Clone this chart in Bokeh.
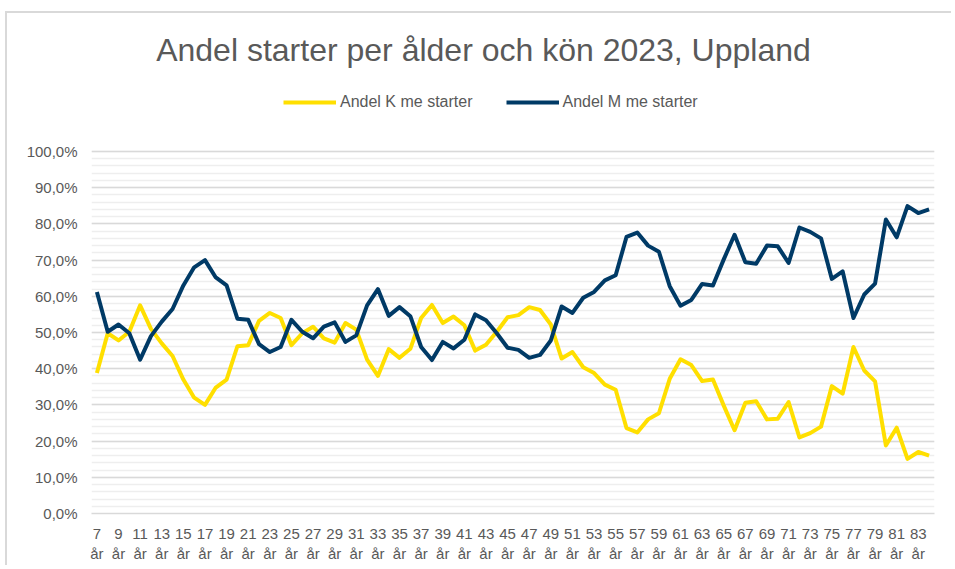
from bokeh.plotting import figure
from bokeh.models import (Range1d, FixedTicker, Legend, LegendItem, Label,
                          ColumnDataSource)
from bokeh.embed import file_html
from bokeh.resources import INLINE

# ---- data -------------------------------------------------------------
ages = list(range(7, 85))
andel_k = [38.8, 49.8, 47.8, 50.2, 57.5, 51.0, 47.0, 43.5, 37.0, 32.0,
           30.0, 34.8, 37.0, 46.2, 46.5, 53.2, 55.4, 54.0, 46.5, 49.8,
           51.6, 48.4, 47.2, 52.6, 50.8, 42.5, 38.0, 45.4, 43.0, 45.5,
           54.0, 57.6, 52.6, 54.4, 52.0, 45.0, 46.6, 50.2, 54.2, 54.8,
           57.0, 56.2, 52.2, 42.8, 44.6, 40.4, 38.8, 35.6, 34.2, 23.6,
           22.4, 26.0, 27.7, 37.2, 42.6, 41.0, 36.6, 37.0, 29.8, 23.0,
           30.6, 31.0, 26.0, 26.2, 30.8, 21.0, 22.2, 24.0, 35.2, 33.1,
           46.0, 39.5, 36.5, 18.8, 23.7, 15.1, 17.0, 16.0]
andel_m = [61.2, 50.2, 52.2, 49.8, 42.5, 49.0, 53.0, 56.5, 63.0, 68.0,
           70.0, 65.2, 63.0, 53.8, 53.5, 46.8, 44.6, 46.0, 53.5, 50.2,
           48.4, 51.6, 52.8, 47.4, 49.2, 57.5, 62.0, 54.6, 57.0, 54.5,
           46.0, 42.4, 47.4, 45.6, 48.0, 55.0, 53.4, 49.8, 45.8, 45.2,
           43.0, 43.8, 47.8, 57.2, 55.4, 59.6, 61.2, 64.4, 65.8, 76.4,
           77.6, 74.0, 72.3, 62.8, 57.4, 59.0, 63.4, 63.0, 70.2, 77.0,
           69.4, 69.0, 74.0, 73.8, 69.2, 79.0, 77.8, 76.0, 64.8, 66.9,
           54.0, 60.5, 63.5, 81.2, 76.3, 84.9, 83.0, 84.0]
x_tick_ages = list(range(7, 85, 2))
y_ticks = list(range(0, 101, 10))
y_minor = list(range(0, 101, 2))
title_text = "Andel starter per ålder och kön 2023, Uppland"
series_labels = ["Andel K me starter", "Andel M me starter"]

TXT = "#595959"
FONT = "Liberation Sans"
YELLOW = "#FFDF00"
NAVY = "#003A66"

src = ColumnDataSource(dict(age=ages, k=andel_k, m=andel_m))

# frame: top at canvas top (room for title/legend), 0..100 % occupies 362 px
p = figure(width=946, height=554, output_backend="svg", toolbar_location=None,
           title_location=None,
           x_range=Range1d(6.5, 84.5), y_range=Range1d(0, 138.12),
           min_border_left=84, min_border_right=19, min_border_top=0,
           min_border_bottom=54)
p.margin = (11, 0, 0, 5)
p.styles = {"border-top": "2px solid #D9D9D9",
            "border-left": "2px solid #D9D9D9"}
p.outline_line_color = None
p.background_fill_color = "white"
p.border_fill_color = "white"

rk = p.line("age", "k", source=src, line_color=YELLOW, line_width=4,
            line_join="round")
rm = p.line("age", "m", source=src, line_color=NAVY, line_width=4,
            line_join="round")

# axes
p.xaxis.ticker = FixedTicker(ticks=x_tick_ages)
p.xaxis.major_label_overrides = {a: f"{a}\når" for a in x_tick_ages}
p.xaxis.major_tick_line_color = None
p.xaxis.minor_tick_line_color = None
p.xaxis.axis_line_color = "#D9D9D9"
p.xaxis.axis_line_width = 1.5
p.xaxis.major_label_text_font = FONT
p.xaxis.major_label_text_font_size = "15px"
p.xaxis.major_label_text_color = TXT
p.xaxis.major_label_standoff = 5

p.yaxis.ticker = FixedTicker(ticks=y_ticks, minor_ticks=y_minor)
p.yaxis.major_label_overrides = {t: f"{t},0%" for t in y_ticks}
p.yaxis.major_tick_line_color = None
p.yaxis.minor_tick_line_color = None
p.yaxis.axis_line_color = None
p.yaxis.major_label_text_font = FONT
p.yaxis.major_label_text_font_size = "15px"
p.yaxis.major_label_text_color = TXT
p.yaxis.major_label_standoff = 8

p.xgrid.grid_line_color = None
p.ygrid.grid_line_color = "#D9D9D9"
p.ygrid.grid_line_width = 1.5
p.ygrid.minor_grid_line_color = "#EEEEEE"
p.ygrid.minor_grid_line_width = 1.5

# title
p.add_layout(Label(x=42.77, y=127.9, text=title_text, text_align="center",
                   text_baseline="middle", text_font=FONT,
                   text_font_size="32px", text_color=TXT))

# legend
legend = Legend(items=[LegendItem(label=series_labels[0], renderers=[rk]),
                       LegendItem(label=series_labels[1], renderers=[rm])],
                orientation="horizontal", location=(192, 402),
                glyph_width=53, glyph_height=16, label_standoff=4,
                spacing=33, padding=0, margin=0,
                label_text_font=FONT, label_text_font_size="16px",
                label_text_color=TXT, border_line_color=None,
                background_fill_alpha=0)
p.add_layout(legend, "center")

open("out.html", "w").write(file_html(p, INLINE))
